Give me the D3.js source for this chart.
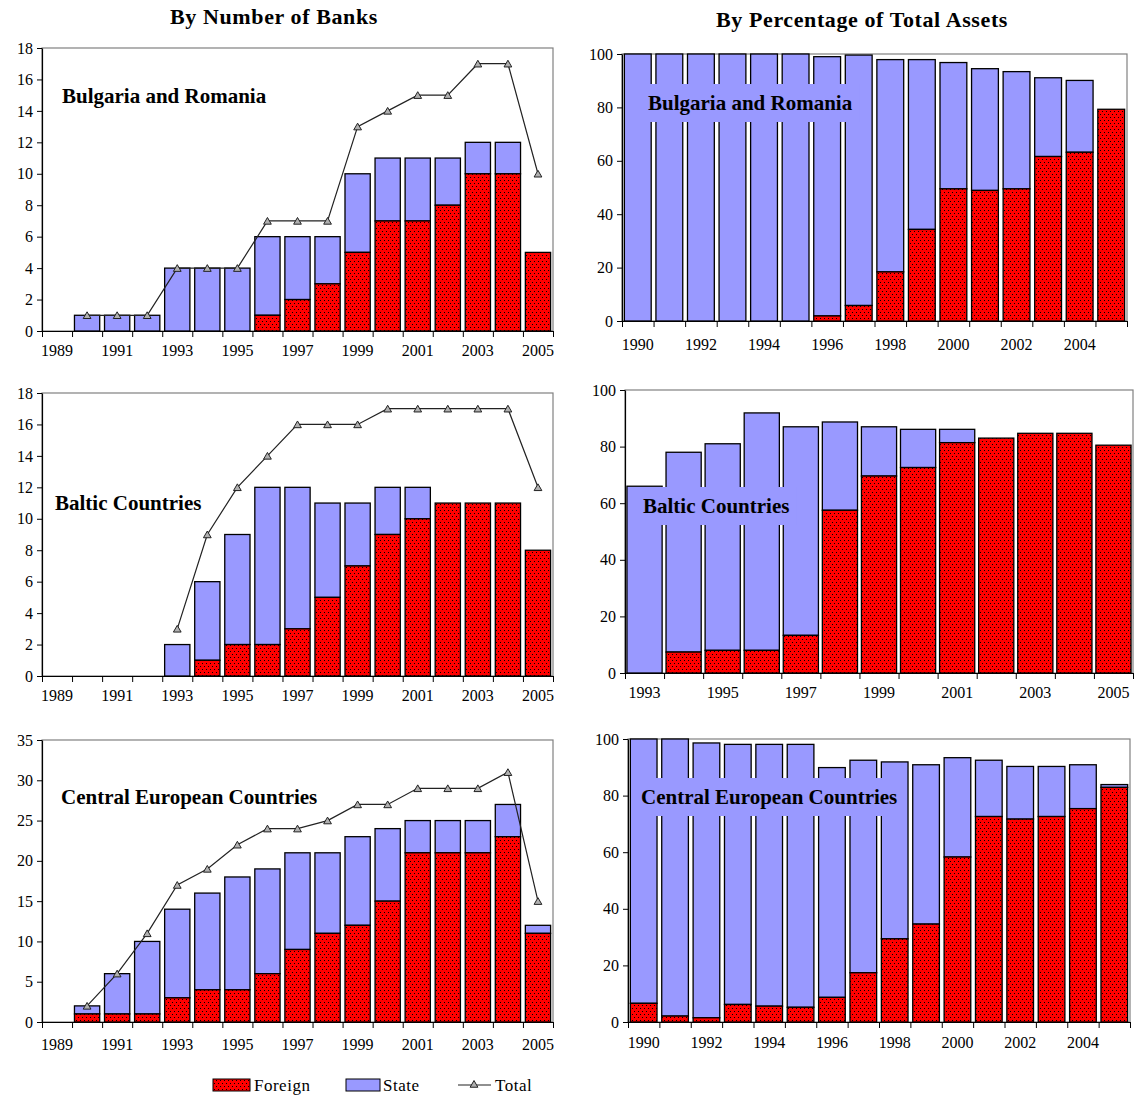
<!DOCTYPE html>
<html>
<head>
<meta charset="utf-8">
<script src="https://cdn.jsdelivr.net/npm/d3@7"></script>
<style>
body {margin:0; background:#fff;}
svg {display:block;}
text {font-family:"Liberation Serif","Times New Roman",serif;}
</style>
</head>
<body>
<svg id="main" width="1135" height="1095"></svg>
<script>
// ---- data ----
var banksYears = [1989,1990,1991,1992,1993,1994,1995,1996,1997,1998,1999,2000,2001,2002,2003,2004,2005];
var banksLabels = [1989,1991,1993,1995,1997,1999,2001,2003,2005];

var brForeign = [null,0,0,0,0,0,0,1,2,3,5,7,7,8,10,10,5];
var brState   = [null,1,1,1,4,4,4,5,4,3,5,4,4,3,2,2,0];
var brTotal   = [null,1,1,1,4,4,4,7,7,7,13,14,15,15,17,17,10];

var btForeign = [null,null,null,null,0,1,2,2,3,5,7,9,10,11,11,11,8];
var btState   = [null,null,null,null,2,5,7,10,9,6,4,3,2,0,0,0,0];
var btTotal   = [null,null,null,null,3,9,12,14,16,16,16,17,17,17,17,17,12];

var ceForeign = [null,1,1,1,3,4,4,6,9,11,12,15,21,21,21,23,11];
var ceState   = [null,1,5,9,11,12,14,13,12,10,11,9,4,4,4,4,1];
var ceTotal   = [null,2,6,11,17,19,22,24,24,25,27,27,29,29,29,31,15];

var assetYears = [1990,1991,1992,1993,1994,1995,1996,1997,1998,1999,2000,2001,2002,2003,2004,2005];
var assetLabels = [1990,1992,1994,1996,1998,2000,2002,2004];
var brAssetForeign = [0,0,0,0,0,0,1.9,5.8,18.4,34.3,49.5,48.9,49.5,61.6,63.2,79.3];
var brAssetTotal   = [100,100,100,100,100,100,99,99.6,97.9,97.9,96.8,94.5,93.4,91.1,90.1,79.3];

var balticYears = [1993,1994,1995,1996,1997,1998,1999,2000,2001,2002,2003,2004,2005];
var balticLabels = [1993,1995,1997,1999,2001,2003,2005];
var btAssetForeign = [0,7.4,8,8,13.3,57.5,69.6,72.6,81.4,83,84.7,84.7,80.5];
var btAssetTotal   = [66,78,81,91.9,87,88.7,87,86.1,86.1,83,84.7,84.7,80.5];

var ceAssetForeign = [6.6,2.1,1.5,6.2,5.6,5.2,8.7,17.4,29.4,34.6,58.3,72.6,71.7,72.6,75.4,82.9];
var ceAssetTotal   = [100,100,98.6,98.1,98.1,98.1,89.9,92.5,91.9,90.9,93.4,92.5,90.3,90.3,90.9,83.9];

var stateColor = '#9999ff';
var serif = '"Liberation Serif","Times New Roman",serif';
var svg = d3.select('#main');

// dotted red fill for foreign
var defs = svg.append('defs');
var pat = defs.append('pattern').attr('id','dots')
	.attr('width',4).attr('height',6).attr('patternUnits','userSpaceOnUse');
pat.append('rect').attr('width',4).attr('height',6).attr('fill','#ff0000');
pat.append('rect').attr('x',0).attr('y',0).attr('width',1).attr('height',1).attr('fill','#000').attr('shape-rendering','crispEdges');
pat.append('rect').attr('x',2).attr('y',3).attr('width',1).attr('height',1).attr('fill','#000').attr('shape-rendering','crispEdges');

function Panel(o) {
	this.o = o;
}

Panel.prototype.Render = function() {
	var o = this.o;
	var g = svg.append('g');
	var x = d3.scaleBand().domain(o.years).range([o.x0, o.x1]).paddingInner(o.pad).paddingOuter(o.pad/2);
	var y = d3.scaleLinear().domain([0, o.ymax]).range([o.y1, o.y0]);
	var idx = d3.scaleLinear().domain([0, o.years.length]).range([o.x0, o.x1]);

	// frame
	g.append('rect').attr('x',o.x0).attr('y',o.y0).attr('width',o.x1-o.x0).attr('height',o.y1-o.y0)
		.attr('fill','none').attr('stroke','#808080').attr('stroke-width',1.2);

	// bars
	var rows = [];
	o.years.forEach(function(yr, i) {
		if (o.foreign[i] == null) return;
		var f = o.foreign[i];
		var top = o.state ? f + o.state[i] : o.total[i];
		rows.push({year: yr, f: f, top: top});
	});
	var bars = g.selectAll('.bar').data(rows).enter().append('g');
	bars.filter(function(d) {return d.top > d.f;}).append('rect')
		.attr('x', function(d) {return x(d.year);})
		.attr('width', x.bandwidth())
		.attr('y', function(d) {return y(d.top);})
		.attr('height', function(d) {return y(d.f) - y(d.top);})
		.attr('fill', stateColor).attr('stroke','#000').attr('stroke-width',1.3);
	bars.append('rect')
		.attr('x', function(d) {return x(d.year);})
		.attr('width', x.bandwidth())
		.attr('y', function(d) {return y(d.f);})
		.attr('height', function(d) {return y(0) - y(d.f);})
		.attr('fill', 'url(#dots)').attr('stroke','#000').attr('stroke-width',1.3);

	// axes
	g.append('g').attr('transform','translate('+o.x0+',0)')
		.call(d3.axisLeft(y).tickValues(o.yticks).tickSize(5).tickPadding(4).tickSizeOuter(0))
		.attr('font-family', serif).attr('font-size', 16)
		.call(function(a) {
			a.selectAll('text').attr('fill','#000').style('font-family', serif);
			a.selectAll('line').attr('stroke','#000');
			a.select('.domain').attr('stroke','#000').attr('stroke-width',1.2);
		});
	g.append('g').attr('transform','translate(0,'+o.y1+')')
		.call(d3.axisBottom(idx).tickValues(d3.range(o.years.length+1)).tickSize(6).tickFormat('').tickSizeOuter(0))
		.call(function(a) {
			a.selectAll('line').attr('stroke','#000');
			a.select('.domain').attr('stroke','#000').attr('stroke-width',1.2);
		});
	g.append('g').attr('transform','translate(0,'+o.y1+')')
		.call(d3.axisBottom(x).tickValues(o.labels).tickSize(0).tickPadding(o.labPad))
		.attr('font-family', serif).attr('font-size', 16)
		.call(function(a) {
			a.select('.domain').remove();
			a.selectAll('text').attr('fill','#000').style('font-family', serif);
		});

	// panel label
	var lab = g.append('text').attr('x',o.lx).attr('y',o.ly)
		.attr('font-size',21).attr('font-weight','bold').text(o.name);
	if (o.box) {
		var bb = lab.node().getBBox();
		g.insert('rect', function() {return lab.node();})
			.attr('x', bb.x-7).attr('y', bb.y-7).attr('width', bb.width+14).attr('height', bb.height+14)
			.attr('fill', stateColor);
	}

	// total line
	if (o.total && o.state) {
		var pts = [];
		o.years.forEach(function(yr, i) {
			if (o.total[i] != null) pts.push([x(yr)+x.bandwidth()/2, y(o.total[i])]);
		});
		g.append('path').attr('d', d3.line()(pts))
			.attr('fill','none').attr('stroke','#222').attr('stroke-width',1.2);
		g.selectAll('.tri').data(pts).enter().append('path')
			.attr('transform', function(d) {return 'translate('+d[0]+','+(d[1]+1)+')';})
			.attr('d', d3.symbol(d3.symbolTriangle).size(26))
			.attr('fill','#b0b0b0').attr('stroke','#222').attr('stroke-width',1);
	}
};

var panels = [
	new Panel({name:'Bulgaria and Romania', years:banksYears, labels:banksLabels, foreign:brForeign, state:brState, total:brTotal,
		ymax:18, yticks:d3.range(0,19,2), x0:42, x1:553, y0:48, y1:331, pad:0.16, labPad:14, lx:62, ly:103}),
	new Panel({name:'Baltic Countries', years:banksYears, labels:banksLabels, foreign:btForeign, state:btState, total:btTotal,
		ymax:18, yticks:d3.range(0,19,2), x0:42, x1:553, y0:393, y1:676, pad:0.16, labPad:14, lx:55, ly:510}),
	new Panel({name:'Central European Countries', years:banksYears, labels:banksLabels, foreign:ceForeign, state:ceState, total:ceTotal,
		ymax:35, yticks:d3.range(0,36,5), x0:42, x1:553, y0:740, y1:1022, pad:0.16, labPad:17, lx:61, ly:804}),
	new Panel({name:'Bulgaria and Romania', years:assetYears, labels:assetLabels, foreign:brAssetForeign, total:brAssetTotal,
		ymax:100, yticks:d3.range(0,101,20), x0:622, x1:1127, y0:54, y1:321, pad:0.15, labPad:18, lx:648, ly:110, box:true}),
	new Panel({name:'Baltic Countries', years:balticYears, labels:balticLabels, foreign:btAssetForeign, total:btAssetTotal,
		ymax:100, yticks:d3.range(0,101,20), x0:625, x1:1133, y0:390, y1:673, pad:0.1, labPad:14, lx:643, ly:513, box:true}),
	new Panel({name:'Central European Countries', years:assetYears, labels:assetLabels, foreign:ceAssetForeign, total:ceAssetTotal,
		ymax:100, yticks:d3.range(0,101,20), x0:628, x1:1130, y0:739, y1:1022, pad:0.15, labPad:15, lx:641, ly:804, box:true})
];
panels.forEach(function(p) {p.Render();});

// column titles
svg.append('text').attr('x',274).attr('y',24).attr('text-anchor','middle')
	.attr('font-size',22).attr('font-weight','bold').attr('letter-spacing',0.6).text('By Number of Banks');
svg.append('text').attr('x',862).attr('y',27).attr('text-anchor','middle')
	.attr('font-size',22).attr('font-weight','bold').attr('letter-spacing',0.6).text('By Percentage of Total Assets');

// legend
var leg = svg.append('g');
leg.append('rect').attr('x',213).attr('y',1079).attr('width',37).attr('height',12)
	.attr('fill','url(#dots)').attr('stroke','#000');
leg.append('text').attr('x',254).attr('y',1091).attr('font-size',17).attr('letter-spacing',0.5).text('Foreign');
leg.append('rect').attr('x',346).attr('y',1079).attr('width',34).attr('height',12)
	.attr('fill',stateColor).attr('stroke','#000');
leg.append('text').attr('x',383).attr('y',1091).attr('font-size',17).attr('letter-spacing',0.5).text('State');
leg.append('line').attr('x1',458).attr('x2',491).attr('y1',1085).attr('y2',1085)
	.attr('stroke','#222').attr('stroke-width',1.2);
leg.append('path').attr('transform','translate(474,1085)')
	.attr('d', d3.symbol(d3.symbolTriangle).size(26))
	.attr('fill','#b0b0b0').attr('stroke','#222');
leg.append('text').attr('x',495).attr('y',1091).attr('font-size',17).attr('letter-spacing',0.5).text('Total');
</script>
</body>
</html>
